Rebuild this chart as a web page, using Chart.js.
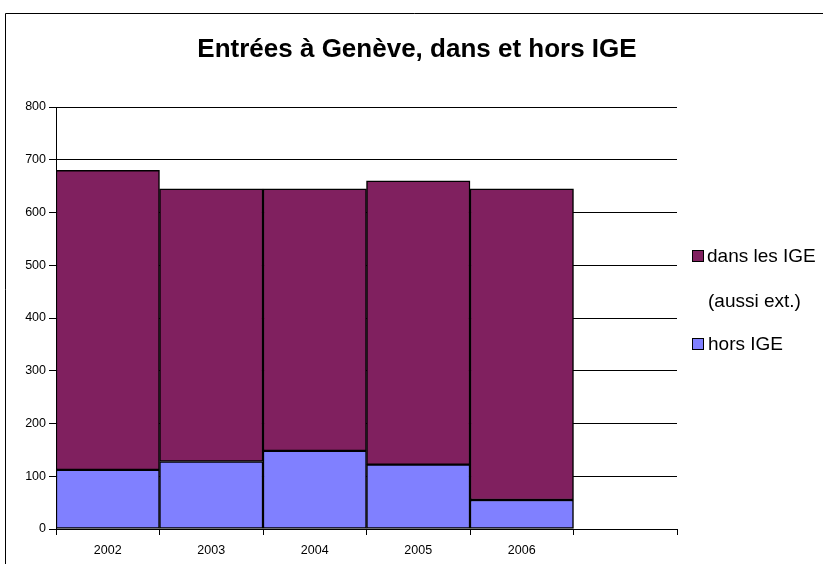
<!DOCTYPE html>
<html>
<head>
<meta charset="utf-8">
<script src="https://cdn.jsdelivr.net/npm/chart.js@4"></script>
<style>
    body { margin: 0; background: #fff; }
    #wrap { width: 823px; height: 564px; }
</style>
</head>
<body>
<div id="wrap"><canvas id="entreesChart"></canvas></div>
<script>
const years = ['2002', '2003', '2004', '2005', '2006', ''];
const horsIGE = [112, 128, 148, 122, 55];
const dansIGE = [568, 517, 497, 538, 590];
const yTicks = [0, 100, 200, 300, 400, 500, 600, 700, 800];

const titleText = 'Entrées à Genève, dans et hors IGE';
const legendLines = [
    ['dans les IGE', '(aussi ext.)'],
    ['hors IGE']
];

// frame, title and the legend on the right, drawn by hand
const decor = {
    id: 'decor',
    afterDraw(chart) {
        const ctx = chart.ctx;
        ctx.save();
        ctx.strokeStyle = '#000';
        ctx.lineWidth = 1;
        ctx.beginPath();
        ctx.moveTo(5.5, 600);
        ctx.lineTo(5.5, 13.5);
        ctx.lineTo(830, 13.5);
        ctx.stroke();

        ctx.fillStyle = '#000';
        ctx.font = 'bold 26px "Liberation Sans", Arial, sans-serif';
        ctx.textAlign = 'center';
        ctx.textBaseline = 'alphabetic';
        ctx.fillText(titleText, 417, 57);

        ctx.font = '19px "Liberation Sans", Arial, sans-serif';
        ctx.textAlign = 'left';
        const ds = chart.data.datasets;
        // dans les IGE (top dataset)
        ctx.fillStyle = ds[1].backgroundColor;
        ctx.fillRect(692, 250, 11, 11);
        ctx.strokeRect(692.5, 250.5, 11, 11);
        ctx.fillStyle = '#000';
        ctx.fillText(legendLines[0][0], 707, 262);
        ctx.fillText(legendLines[0][1], 708, 307);
        // hors IGE
        ctx.fillStyle = ds[0].backgroundColor;
        ctx.fillRect(692, 338, 11, 11);
        ctx.strokeRect(692.5, 338.5, 11, 11);
        ctx.fillStyle = '#000';
        ctx.fillText(legendLines[1][0], 708, 350);
        ctx.restore();
    }
};

document.addEventListener('DOMContentLoaded', () => {
    const ctx = document.getElementById('entreesChart').getContext('2d');
    new Chart(ctx, {
        type: 'bar',
        data: {
            labels: years,
            datasets: [
                {
                    label: 'hors IGE',
                    data: horsIGE,
                    backgroundColor: '#8080FF',
                    borderColor: '#000',
                    borderWidth: 1.5,
                    borderSkipped: false
                },
                {
                    label: 'dans les IGE (aussi ext.)',
                    data: dansIGE,
                    backgroundColor: '#80205F',
                    borderColor: '#000',
                    borderWidth: 1.5,
                    borderSkipped: false
                }
            ]
        },
        options: {
            responsive: true,
            maintainAspectRatio: false,
            animation: false,
            layout: {
                padding: { top: 107, right: 146, bottom: 0, left: 0 }
            },
            datasets: {
                bar: { categoryPercentage: 1, barPercentage: 1 }
            },
            scales: {
                x: {
                    stacked: true,
                    afterFit: (scale) => { scale.height = 35; },
                    grid: {
                        offset: true,
                        drawOnChartArea: false,
                        drawTicks: true,
                        tickLength: 6,
                        color: '#000'
                    },
                    border: { display: true, color: '#000', width: 1 },
                    ticks: {
                        color: '#000',
                        padding: 8,
                        maxRotation: 0,
                        font: { family: '"Liberation Sans", Arial, sans-serif', size: 12.5 }
                    }
                },
                y: {
                    stacked: true,
                    min: 0,
                    max: 800,
                    afterFit: (scale) => { scale.width = 56; },
                    afterBuildTicks: (scale) => {
                        scale.ticks = yTicks.map(v => ({ value: v }));
                    },
                    grid: {
                        color: '#000',
                        lineWidth: 1,
                        tickLength: 7
                    },
                    border: { display: true, color: '#000', width: 1 },
                    ticks: {
                        color: '#000',
                        padding: 3,
                        font: { family: '"Liberation Sans", Arial, sans-serif', size: 12.5 }
                    }
                }
            },
            plugins: {
                legend: { display: false },
                title: { display: false },
                tooltip: { enabled: false }
            }
        },
        plugins: [decor]
    });
});
</script>
</body>
</html>
